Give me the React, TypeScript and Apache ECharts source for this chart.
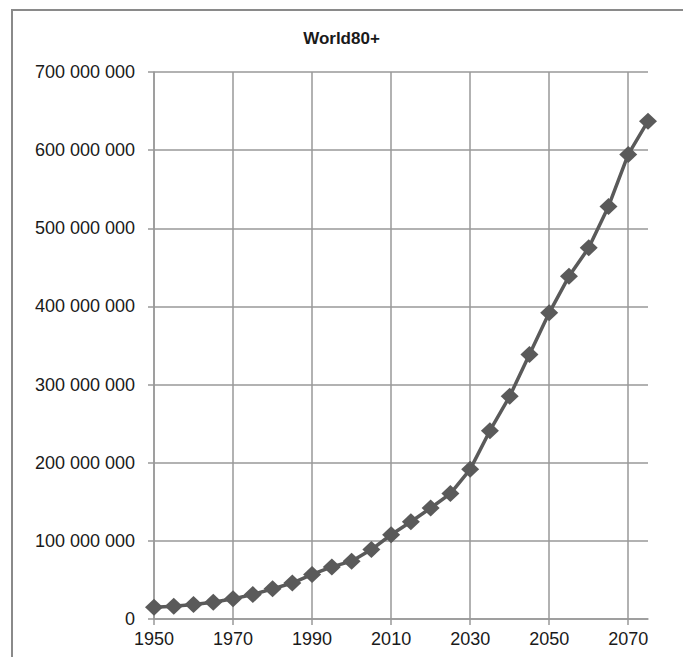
import React, { useEffect, useRef } from "react";
import * as echarts from "echarts";

const years: string[] = [
  "1950", "1955", "1960", "1965", "1970", "1975", "1980", "1985", "1990", "1995",
  "2000", "2005", "2010", "2015", "2020", "2025", "2030", "2035", "2040", "2045",
  "2050", "2055", "2060", "2065", "2070", "2075",
];

const world80plus: number[] = [
  15100000, 16300000, 18500000, 21500000, 25800000, 31300000, 38600000, 46000000,
  57000000, 66700000, 74000000, 88800000, 107800000, 124500000, 142000000, 160500000,
  191500000, 241000000, 285000000, 338500000, 391800000, 438500000, 475000000,
  528000000, 594500000, 637000000,
];

const yTicks = { min: 0, max: 700000000, interval: 100000000 };

const fmt = (v: number) => String(v).replace(/\B(?=(\d{3})+(?!\d))/g, " ");

export default function App() {
  const ref = useRef<HTMLDivElement>(null);
  useEffect(() => {
    if (!ref.current) return;
    const chart = echarts.init(ref.current, undefined, { renderer: "svg" });
    const font = "'Liberation Sans', Arial, sans-serif";
    chart.setOption({
      animation: false,
      backgroundColor: "#ffffff",
      title: {
        text: "World80+",
        left: "center",
        top: 30,
        padding: 0,
        textStyle: { fontFamily: font, fontSize: 17, fontWeight: "bold", color: "#1a1a1a" },
      },
      graphic: [
        {
          type: "rect",
          shape: { x: 12, y: 10, width: 720, height: 720 },
          style: { fill: "none", stroke: "#8a8a8a", lineWidth: 2 },
          silent: true,
        },
      ],
      grid: { left: 154, right: 35, top: 72, bottom: 38, containLabel: false },
      xAxis: {
        type: "category",
        data: years,
        boundaryGap: false,
        axisLine: { show: true, lineStyle: { color: "#999999", width: 1.5 } },
        axisTick: { show: true, interval: 3, length: 6, lineStyle: { color: "#999999", width: 1.5 } },
        axisLabel: { interval: 3, margin: 11, fontFamily: font, fontSize: 18, color: "#1a1a1a" },
        splitLine: { show: true, interval: 3, lineStyle: { color: "#999999", width: 1.5 } },
      },
      yAxis: {
        type: "value",
        min: yTicks.min,
        max: yTicks.max,
        interval: yTicks.interval,
        axisLine: { show: true, lineStyle: { color: "#999999", width: 1.5 } },
        axisTick: { show: true, length: 6, lineStyle: { color: "#999999", width: 1.5 } },
        axisLabel: {
          margin: 19,
          fontFamily: font,
          fontSize: 18,
          color: "#1a1a1a",
          formatter: (v: number) => fmt(v),
        },
        splitLine: { show: true, lineStyle: { color: "#999999", width: 1.5 } },
      },
      series: [
        {
          type: "line",
          data: world80plus,
          symbol: "diamond",
          symbolSize: [18, 17],
          showAllSymbol: true,
          lineStyle: { color: "#5a5a5a", width: 3.5 },
          itemStyle: { color: "#5a5a5a" },
        },
      ],
    });
    return () => chart.dispose();
  }, []);
  return (
    <div
      ref={ref}
      style={{ position: "fixed", left: 0, top: 0, width: 683, height: 657 }}
    />
  );
}
